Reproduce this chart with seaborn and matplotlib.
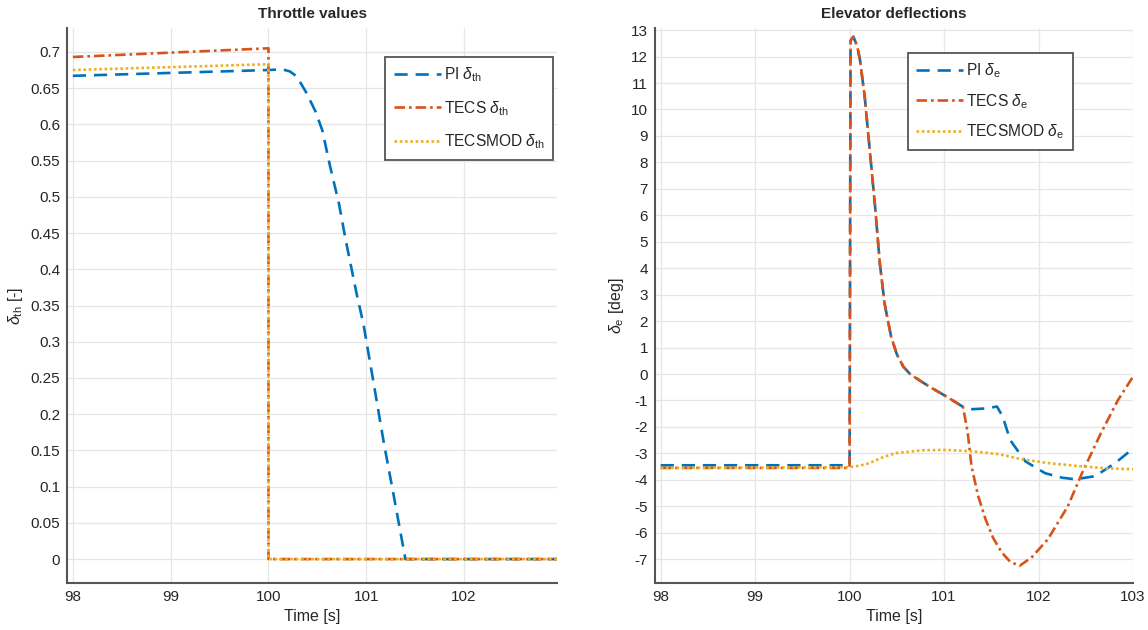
import numpy as np
import pandas as pd
import matplotlib
matplotlib.use("Agg")
import matplotlib.pyplot as plt
import seaborn as sns

# ---------------- data ----------------
# Throttle values
th_pi_t = [98.0, 100.0, 100.14, 100.22, 100.29, 100.39, 100.48, 100.55, 100.63, 100.72,
           100.79, 100.90, 100.97, 101.07, 101.18, 101.28, 101.40, 102.95]
th_pi = [0.667, 0.675, 0.676, 0.673, 0.666, 0.643, 0.618, 0.592, 0.542, 0.491,
         0.440, 0.367, 0.325, 0.247, 0.160, 0.088, 0.0, 0.0]
th_tecs_t = [98.0, 100.0, 100.0, 102.95]
th_tecs = [0.693, 0.705, 0.0, 0.0]
th_mod_t = [98.0, 100.0, 100.0, 102.95]
th_mod = [0.675, 0.683, 0.0, 0.0]

# Elevator deflections
el_pi_t = [98.0, 100.0, 100.01, 100.04, 100.08, 100.11, 100.16, 100.21, 100.27, 100.32,
           100.37, 100.44, 100.50, 100.57, 100.64, 100.71, 100.85, 101.03, 101.20, 101.30,
           101.45, 101.56, 101.62, 101.70, 101.86, 102.07, 102.25, 102.39, 102.60, 102.81,
           103.0]
el_pi = [-3.45, -3.45, 12.6, 12.75, 12.4, 11.87, 10.48, 8.59, 6.32, 4.18,
         2.67, 1.40, 0.75, 0.27, 0.0, -0.17, -0.49, -0.86, -1.24, -1.33,
         -1.30, -1.23, -1.60, -2.50, -3.30, -3.75, -3.92, -3.98, -3.86, -3.37,
         -2.82]
el_tecs_t = [98.0, 100.0, 100.01, 100.04, 100.08, 100.11, 100.16, 100.21, 100.27, 100.32,
             100.37, 100.44, 100.50, 100.57, 100.64, 100.71, 100.85, 101.03, 101.20, 101.25,
             101.29, 101.36, 101.44, 101.52, 101.61, 101.70, 101.80, 101.93, 102.10, 102.31,
             102.46, 102.66, 102.84, 103.0]
el_tecs = [-3.55, -3.55, 12.6, 12.75, 12.4, 11.87, 10.48, 8.59, 6.32, 4.18,
           2.67, 1.40, 0.75, 0.27, 0.0, -0.17, -0.49, -0.86, -1.24, -2.2,
           -3.48, -4.6, -5.5, -6.2, -6.74, -7.1, -7.25, -6.92, -6.24, -5.0,
           -3.75, -2.24, -0.99, -0.1]
el_mod_t = [98.0, 100.0, 100.1, 100.21, 100.35, 100.49, 100.78, 101.02, 101.29, 101.58,
            101.82, 102.11, 102.42, 102.70, 103.0]
el_mod = [-3.55, -3.52, -3.47, -3.37, -3.15, -2.99, -2.88, -2.87, -2.92, -3.03,
          -3.22, -3.37, -3.48, -3.56, -3.60]

th_labels = [r"PI $\delta_{\mathrm{th}}$", r"TECS $\delta_{\mathrm{th}}$", r"TECSMOD $\delta_{\mathrm{th}}$"]
el_labels = [r"PI $\delta_{\mathrm{e}}$", r"TECS $\delta_{\mathrm{e}}$", r"TECSMOD $\delta_{\mathrm{e}}$"]

left_xticks = [98, 99, 100, 101, 102]
right_xticks = [98, 99, 100, 101, 102, 103]
left_yticks = [round(0.05 * i, 2) for i in range(15)]
right_yticks = list(range(-7, 14))

# ---------------- style ----------------
sns.set_theme(style="whitegrid")
plt.rcParams["font.family"] = ["Liberation Sans", "DejaVu Sans"]
plt.rcParams["mathtext.fontset"] = "custom"
plt.rcParams["mathtext.rm"] = "Liberation Sans"
plt.rcParams["mathtext.it"] = "Liberation Sans:italic"

colors = ["#0072BD", "#D95319", "#EDB120"]
styles = [(0, (5, 3)), (0, (4, 1.5, 1, 1.5)), (0, (1, 1))]

fig = plt.figure(figsize=(11.48, 6.3), dpi=100)
axL = fig.add_axes([67 / 1148, 1 - 583 / 630, 490 / 1148, 555 / 630])
axR = fig.add_axes([655 / 1148, 1 - 583 / 630, 478 / 1148, 555 / 630])


def draw(ax, series, labels):
    for (t, v), lab, c, ls in zip(series, labels, colors, styles):
        df = pd.DataFrame({"t": t, "v": v})
        sns.lineplot(data=df, x="t", y="v", ax=ax, sort=False, estimator=None,
                     color=c, linestyle=ls, linewidth=1.9, label=lab)


draw(axL, [(th_pi_t, th_pi), (th_tecs_t, th_tecs), (th_mod_t, th_mod)], th_labels)
draw(axR, [(el_pi_t, el_pi), (el_tecs_t, el_tecs), (el_mod_t, el_mod)], el_labels)


def fmt(v):
    return ("%g" % v)


for ax, xt, yt, xlim, ylim, title, ylab, anchor, lsp in [
    (axL, left_xticks, left_yticks, (97.94, 102.95), (-0.033, 0.733),
     "Throttle values", r"$\delta_{\mathrm{th}}$ [-]", (0.992, 0.948), 0.95),
    (axR, right_xticks, right_yticks, (97.94, 103.0), (-7.9, 13.08),
     "Elevator deflections", r"$\delta_{\mathrm{e}}$ [deg]", (0.874, 0.955), 0.75),
]:
    ax.set_xlim(*xlim)
    ax.set_ylim(*ylim)
    ax.set_xticks(xt)
    ax.set_yticks(yt)
    ax.set_xticklabels([fmt(v) for v in xt])
    ax.set_yticklabels([fmt(v) for v in yt])
    ax.set_title(title, fontsize=11, fontweight="bold", pad=7)
    ax.set_xlabel("Time [s]", fontsize=11.5, labelpad=4)
    ax.set_ylabel(ylab, fontsize=11.5, labelpad=4)
    ax.tick_params(axis="both", direction="in", length=4, width=1, colors="#404040",
                   labelsize=11, labelcolor="#262626", pad=5)
    ax.grid(True, color="#e6e6e6", linewidth=0.9)
    ax.set_facecolor("white")
    for s in ["top", "right"]:
        ax.spines[s].set_visible(False)
    for s in ["left", "bottom"]:
        ax.spines[s].set_color("#555555")
        ax.spines[s].set_linewidth(1.5)
    leg = ax.legend(loc="upper right", bbox_to_anchor=anchor, fontsize=11.2,
                    handlelength=3.0, handletextpad=0.2, labelspacing=lsp,
                    borderpad=0.55, fancybox=False, framealpha=1, borderaxespad=0)
    leg.get_frame().set_edgecolor("#555555")
    leg.get_frame().set_linewidth(1.3)

fig.savefig("out.png", dpi=100)
